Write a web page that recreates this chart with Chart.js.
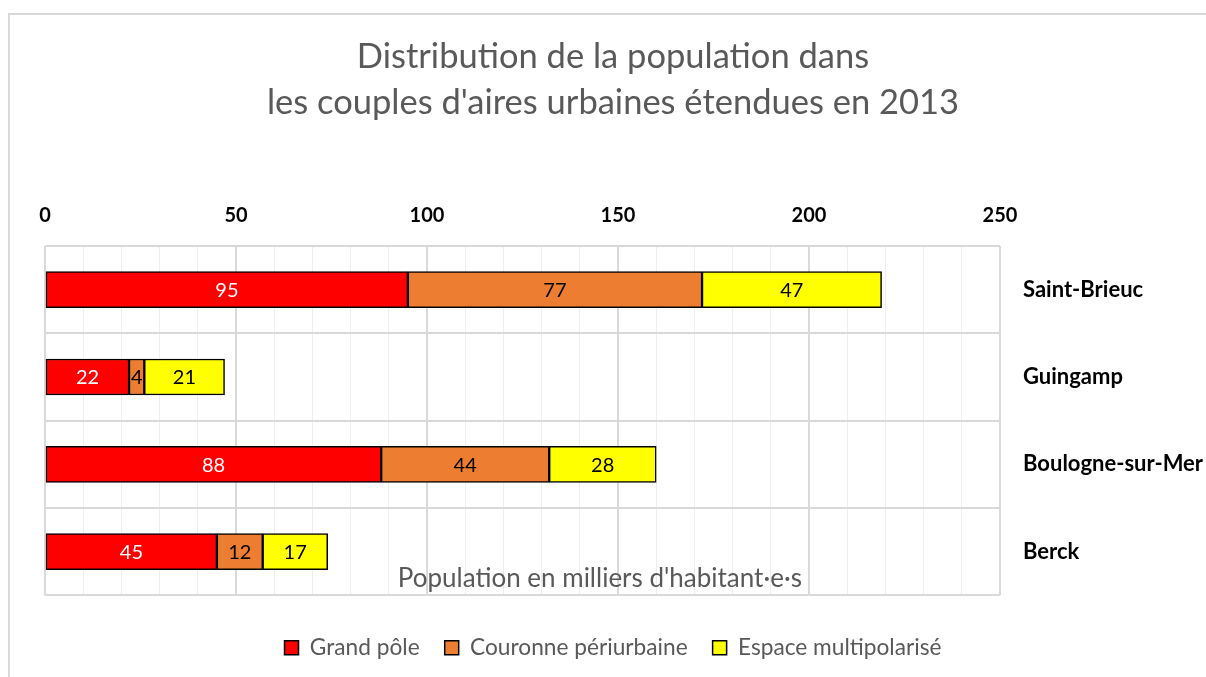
<!DOCTYPE html>
<html><head><meta charset="utf-8">
<script src="https://cdn.jsdelivr.net/npm/chart.js@4/dist/chart.umd.min.js"></script>
<style>
html,body{margin:0;padding:0;background:#fff;}
#wrap{position:relative;width:1206px;height:677px;overflow:hidden;}
#frame{position:absolute;left:8px;top:13px;width:1300px;height:800px;border-left:2px solid #d9d9d9;border-top:2px solid #d9d9d9;box-sizing:border-box;}
canvas{position:absolute;left:0;top:0;}
</style></head>
<body><div id="wrap"><div id="frame"></div><canvas id="c" width="1206" height="677"></canvas></div>
<script>
const categories = ['Saint-Brieuc', 'Guingamp', 'Boulogne-sur-Mer', 'Berck'];
const grandPole = [95, 22, 88, 45];
const couronne = [77, 4, 44, 12];
const multipol = [47, 21, 28, 17];
const seriesNames = ['Grand pôle', 'Couronne périurbaine', 'Espace multipolarisé'];
const titleLines = ['Distribution de la population dans', "les couples d'aires urbaines étendues en 2013"];
const axisTitle = "Population en milliers d'habitant·e·s";
const FONT = 'Lato, "Open Sans", sans-serif';

const labelPlugin = {
  id: 'labels',
  afterDatasetsDraw(chart) {
    const ctx = chart.ctx;
    ctx.save();
    ctx.font = '20px ' + FONT;
    ctx.textAlign = 'center';
    ctx.textBaseline = 'middle';
    chart.data.datasets.forEach((ds, i) => {
      const meta = chart.getDatasetMeta(i);
      meta.data.forEach((el, j) => {
        const cx = (el.x + el.base) / 2;
        ctx.fillStyle = i === 0 ? '#ffffff' : '#000000';
        ctx.fillText(String(ds.data[j]), cx, el.y + 1);
      });
    });
    const a = chart.chartArea;
    ctx.font = '26px ' + FONT;
    ctx.fillStyle = '#595959';
    ctx.fillText(axisTitle, a.left + 0.581 * (a.right - a.left), a.bottom - 17);
    ctx.restore();
  }
};

const mk = (label, data, color) => ({
  label, data, backgroundColor: color, borderColor: '#000', borderWidth: 1.5,
  borderSkipped: false, barThickness: 36, xAxisID: 'x', yAxisID: 'y'
});

new Chart(document.getElementById('c'), {
  type: 'bar',
  data: {
    labels: categories,
    datasets: [
      mk(seriesNames[0], grandPole, '#ff0000'),
      mk(seriesNames[1], couronne, '#ed7d31'),
      mk(seriesNames[2], multipol, '#ffff00')
    ]
  },
  options: {
    indexAxis: 'y',
    responsive: false,
    animation: false,
    layout: { padding: { left: 20, right: 0, top: 0, bottom: 8 } },
    scales: {
      x: {
        position: 'top', stacked: true, min: 0, max: 250,
        afterFit(s) { s.height = 120; },
        ticks: {
          stepSize: 10, autoSkip: false, maxRotation: 0, padding: 18,
          color: '#000', font: { family: FONT, size: 20, weight: 'bold' },
          callback: (v) => (v % 50 === 0 ? String(v) : '')
        },
        grid: {
          drawTicks: false,
          color: (c) => (c.tick && c.tick.value % 50 === 0 ? '#d9d9d9' : '#eeeeee'),
          lineWidth: (c) => (c.tick && c.tick.value % 50 === 0 ? 2 : 1)
        },
        border: { display: false }
      },
      y: {
        type: 'category', position: 'right', stacked: true,
        afterFit(s) { s.width = 206; },
        ticks: { padding: 23, color: '#000', font: { family: FONT, size: 22, weight: 'bold' } },
        grid: { drawTicks: false, offset: true, color: '#d9d9d9', lineWidth: 2 },
        border: { display: false }
      },
      x2: {
        type: 'linear', axis: 'x', position: 'bottom', display: true,
        afterFit(s) { s.height = 16; },
        ticks: { display: false }, grid: { display: false }, border: { display: false }
      },
      y2: {
        type: 'linear', axis: 'y', position: 'left', display: true,
        afterFit(s) { s.width = 25; },
        ticks: { display: false }, grid: { display: false }, border: { display: false }
      }
    },
    plugins: {
      title: {
        display: true, text: titleLines, color: '#595959',
        font: { family: FONT, size: 34.5, weight: 'normal', lineHeight: '46px' },
        padding: { top: 34, bottom: 0 }
      },
      legend: {
        position: 'bottom',
        labels: {
          boxWidth: 14, boxHeight: 14, padding: 25, color: '#595959',
          font: { family: FONT, size: 22.7 }
        }
      },
      tooltip: { enabled: false }
    }
  },
  plugins: [labelPlugin]
});
</script></body></html>
